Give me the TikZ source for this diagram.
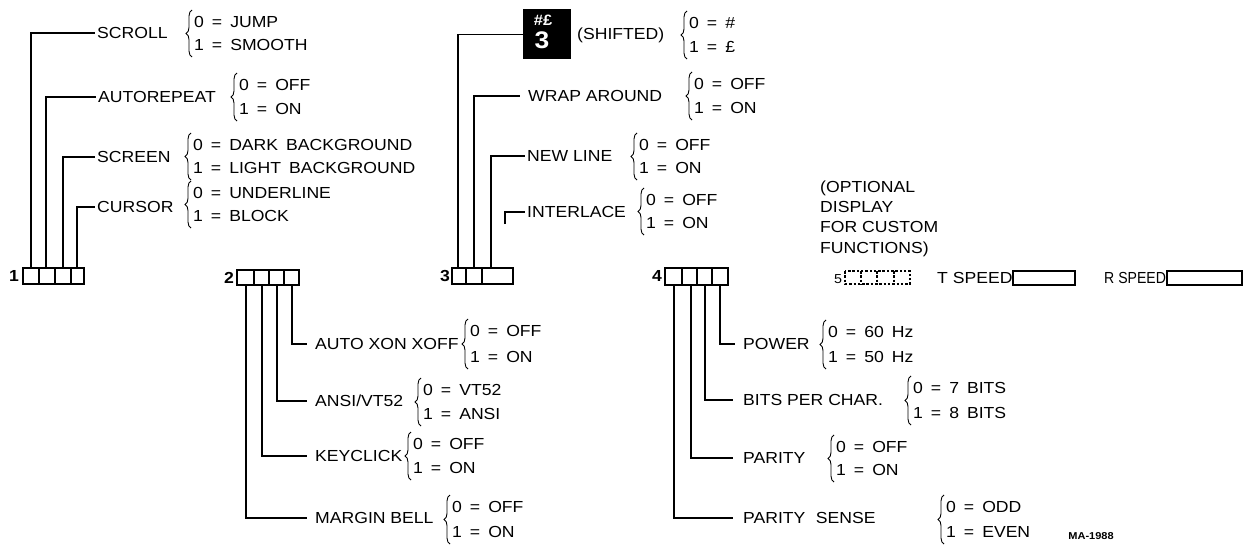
\documentclass[tikz,border=0pt]{standalone}
\usepackage{fontspec}
\setmainfont[FakeStretch=1.1]{Liberation Sans}
\usetikzlibrary{decorations.pathreplacing}
\newcommand\optpair[6]{%
  \draw[brc] (#2,#4+12) -- (#2,#3-12);
  \node[opt] (#1a) at (#2+2,#3) {#5};
  \node[opt] (#1b) at (#2+2,#4) {#6};}
\begin{document}
\begin{tikzpicture}[x=1pt,y=-1pt,
  lab/.style={anchor=west, inner sep=0pt, text height=11.5pt, text depth=0pt, font=\fontsize{16}{18}\selectfont},
  opt/.style={lab, font={\fontsize{16}{18}\selectfont\spaceskip=0.5em\relax}},
  wire/.style={line width=1.1pt},
  cellbox/.style={line width=1.7pt},
  dashbox/.style={line width=1.3pt, dash pattern=on 2.5pt off 1.8pt},
  brc/.style={decorate, decoration={brace, amplitude=6pt}, line width=0.9pt},
  num/.style={anchor=east, inner sep=0pt, font=\fontsize{16}{18}\selectfont\bfseries}]
\useasboundingbox[fill=white] (0,0) rectangle (1244,546);

% ---------- group 1 ----------
\draw[cellbox] (23,268) rectangle (84,284);
\foreach \x in {39,55,71} \draw[cellbox] (\x,268) -- (\x,284);
\node[num] (n1) at (19,276) {1};
\coordinate (c1a) at (31,268);
\coordinate (c1b) at (46,268);
\coordinate (c1c) at (63,268);
\coordinate (c1d) at (77,268);

\node[lab] (scroll) at (97,33) {SCROLL};
\optpair{scroll}{192}{22}{45}{0 = JUMP}{1 = SMOOTH}
\node[lab] (autorep) at (98,97) {AUTOREPEAT};
\optpair{autorep}{237}{85}{109}{0 = OFF}{1 = ON}
\node[lab] (screen) at (97,157) {SCREEN};
\optpair{screen}{191}{145}{168}{0 = DARK BACKGROUND}{1 = LIGHT BACKGROUND}
\node[lab] (cursor) at (97,207) {CURSOR};
\optpair{cursor}{191}{193}{216}{0 = UNDERLINE}{1 = BLOCK}

\draw[wire, shorten >=2pt] (c1a) |- (scroll.west);
\draw[wire, shorten >=2pt] (c1b) |- (autorep.west);
\draw[wire, shorten >=2pt] (c1c) |- (screen.west);
\draw[wire, shorten >=2pt] (c1d) |- (cursor.west);

% ---------- group 2 ----------
\draw[cellbox] (237,270) rectangle (299,285);
\foreach \x in {254,269,284} \draw[cellbox] (\x,270) -- (\x,285);
\node[num] (n2) at (234,278) {2};
\coordinate (c2a) at (246,285);
\coordinate (c2b) at (262,285);
\coordinate (c2c) at (277,285);
\coordinate (c2d) at (292,285);

\node[lab] (autox) at (315,344) {AUTO XON XOFF};
\optpair{autox}{468}{331}{357}{0 = OFF}{1 = ON}
\node[lab] (ansi) at (315,401) {ANSI/VT52};
\optpair{ansi}{421}{390}{414}{0 = VT52}{1 = ANSI}
\node[lab] (keyclick) at (315,456) {KEYCLICK};
\optpair{keyclick}{411}{444}{468}{0 = OFF}{1 = ON}
\node[lab] (margin) at (315,518) {MARGIN BELL};
\optpair{margin}{450}{507}{532}{0 = OFF}{1 = ON}

\draw[wire, shorten >=8pt] (c2d) |- (autox.west);
\draw[wire, shorten >=8pt] (c2c) |- (ansi.west);
\draw[wire, shorten >=8pt] (c2b) |- (keyclick.west);
\draw[wire, shorten >=8pt] (c2a) |- (margin.west);

% ---------- group 3 ----------
\draw[cellbox] (452,268) rectangle (513,284);
\foreach \x in {466,482} \draw[cellbox] (\x,268) -- (\x,284);
\node[num] (n3) at (450,276) {3};
\coordinate (c3a) at (458,268);
\coordinate (c3b) at (474,268);
\coordinate (c3c) at (491,268);
\coordinate (c3d) at (505,224);

\node[fill=black, inner sep=0pt, minimum width=48pt, minimum height=50pt, anchor=north west] (key) at (523,9) {};
\node[text=white, inner sep=0pt, font=\fontsize{15}{16}\selectfont\bfseries] (keysym) at (543,20) {\#£};
\node[text=white, inner sep=0pt, font=\fontsize{24}{25}\selectfont\bfseries] (keythree) at (542,40) {3};
\node[lab] (shifted) at (577,34) {(SHIFTED)};
\optpair{shifted}{687}{23}{47}{0 = \#}{1 = £}
\node[lab] (wrap) at (528,96) {WRAP AROUND};
\optpair{wrap}{692}{84}{108}{0 = OFF}{1 = ON}
\node[lab] (newline) at (527,156) {NEW LINE};
\optpair{newline}{637}{145}{168}{0 = OFF}{1 = ON}
\node[lab] (interlace) at (527,212) {INTERLACE};
\optpair{interlace}{644}{200}{223}{0 = OFF}{1 = ON}

\draw[wire] (c3a) |- (key.west);
\draw[wire, shorten >=8pt] (c3b) |- (wrap.west);
\draw[wire, shorten >=2pt] (c3c) |- (newline.west);
\draw[wire, shorten >=2pt] (c3d) |- (interlace.west);

% ---------- group 4 ----------
\draw[cellbox] (665,268) rectangle (728,285);
\foreach \x in {682,697,712} \draw[cellbox] (\x,268) -- (\x,285);
\node[num] (n4) at (662,276) {4};
\coordinate (c4a) at (674,285);
\coordinate (c4b) at (691,285);
\coordinate (c4c) at (705,285);
\coordinate (c4d) at (720,285);

\node[lab] (power) at (743,344) {POWER};
\optpair{power}{826}{332}{357}{0 = 60 Hz}{1 = 50 Hz}
\node[lab] (bits) at (743,400) {BITS PER CHAR.};
\optpair{bits}{911}{388}{413}{0 = 7 BITS}{1 = 8 BITS}
\node[lab] (parity) at (743,458) {PARITY};
\optpair{parity}{834}{447}{470}{0 = OFF}{1 = ON}
\node[lab] (psense) at (743,518) {PARITY\hspace{0.35em} SENSE};
\optpair{psense}{944}{507}{532}{0 = ODD}{1 = EVEN}

\draw[wire, shorten >=8pt] (c4d) |- (power.west);
\draw[wire, shorten >=10pt] (c4c) |- (bits.west);
\draw[wire, shorten >=10pt] (c4b) |- (parity.west);
\draw[wire, shorten >=10pt] (c4a) |- (psense.west);

% ---------- right side ----------
\node[lab] (optl1) at (820,187) {(OPTIONAL};
\node[lab] (optl2) at (820,207) {DISPLAY};
\node[lab] (optl3) at (820,227) {FOR CUSTOM};
\node[lab] (optl4) at (820,248) {FUNCTIONS)};

\node[lab, font=\fontsize{13}{14}\selectfont] (five) at (834,278) {5};
\draw[dashbox] (845,271) rectangle (910,284);
\foreach \x in {861,877,894} \draw[dashbox] (\x,271) -- (\x,284);
\node[lab] (tspeed) at (937,278) {T SPEED};
\draw[cellbox] (1013,271) rectangle (1075,285);
\node[lab] (rspeed) at (1104,278) {\scalebox{0.8}[1]{R SPEED}};
\draw[cellbox] (1167,271) rectangle (1242,285);

\node[inner sep=0pt, font=\fontsize{10}{11}\selectfont\bfseries] (ma) at (1091,536) {MA-1988};
\end{tikzpicture}
\end{document}
